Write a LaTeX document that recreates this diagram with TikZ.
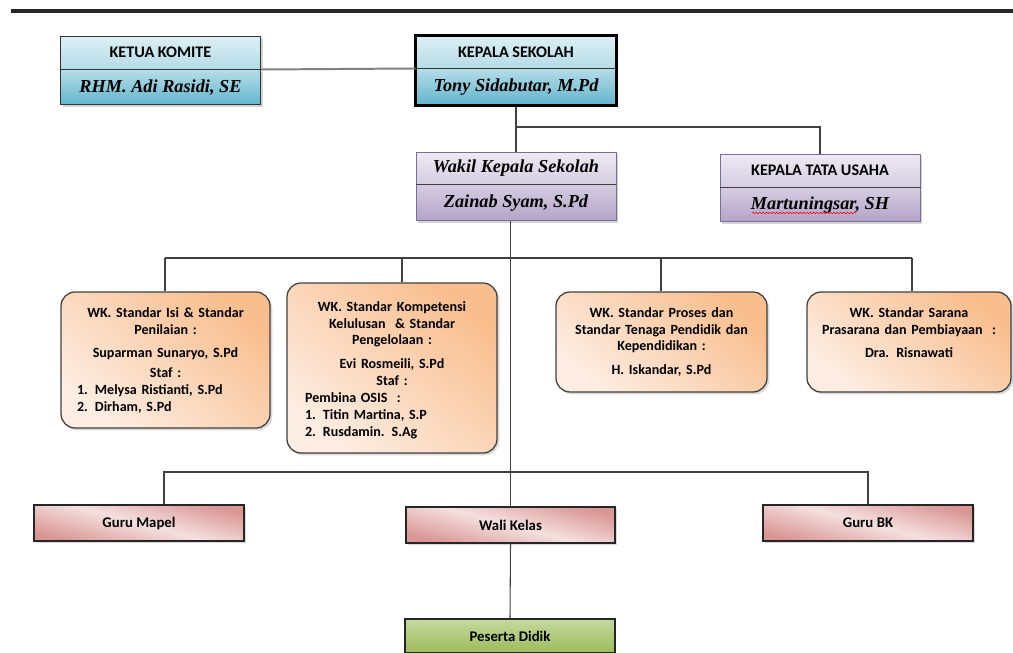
\documentclass[tikz,border=0pt]{standalone}
\usepackage{fontspec}
\setmainfont{Carlito}
\newfontfamily\namefont{Liberation Serif}
\usetikzlibrary{positioning, fit, shadows, decorations.pathmorphing}

\definecolor{blueA}{HTML}{DDEFF4}
\definecolor{blueB}{HTML}{B4DCE7}
\definecolor{blueC}{HTML}{62B5CD}
\definecolor{purpA}{HTML}{EEEBF3}
\definecolor{purpB}{HTML}{D5CCE1}
\definecolor{purpC}{HTML}{B3A3C8}
\definecolor{purpEdge}{HTML}{7E6AA0}
\definecolor{peachD}{HTML}{F9BE8E}
\definecolor{peachL}{HTML}{FDEDE2}
\definecolor{pinkD}{HTML}{D99694}
\definecolor{pinkL}{HTML}{F4E0DF}
\definecolor{greenL}{HTML}{C6D9A0}
\definecolor{greenD}{HTML}{9BBB59}

\newcommand{\pxu}{0.025cm}
\newcommand{\wkitem}[1]{\makebox[\hsize][l]{#1}}

\begin{document}
\begin{tikzpicture}[x=\pxu, y=-\pxu,
    part_style/.style={draw=black!80, line width=0.7pt, minimum width=200*\pxu, inner sep=0pt,
        drop shadow={shadow xshift=1.6pt, shadow yshift=-1.6pt, opacity=0.35}},
    title_font/.style={font=\fontsize{11.5}{13}\selectfont\bfseries},
    name_font/.style={font=\fontsize{13}{15}\selectfont\namefont\bfseries\itshape},
    blue_top/.style={part_style, title_font, top color=blueA, bottom color=blueB},
    blue_bot/.style={part_style, name_font, top color=blueB, bottom color=blueC},
    purp_top/.style={part_style, draw=purpEdge, top color=purpA, bottom color=purpB},
    purp_bot/.style={part_style, draw=purpEdge, name_font, top color=purpB, bottom color=purpC},
    divider/.style={draw=black!75, line width=0.7pt},
    wk_box/.style={draw=black!75, line width=0.9pt, rounded corners=10pt, top color=peachD, bottom color=peachL,
        shading angle=-40, drop shadow={shadow xshift=1.6pt, shadow yshift=-1.6pt, opacity=0.3}},
    wk_text/.style={font=\fontsize{10}{12}\selectfont\bfseries, align=center, anchor=north, inner sep=0pt},
    unit_box/.style={draw=black!85, line width=0.9pt, font=\fontsize{10.5}{12}\selectfont\bfseries,
        top color=pinkD, bottom color=pinkD, middle color=pinkL,
        shading angle=-15, drop shadow={shadow xshift=1.6pt, shadow yshift=-1.6pt, opacity=0.3}},
    learner_box/.style={draw=black!85, line width=0.9pt, font=\fontsize{10.5}{12}\selectfont\bfseries,
        top color=greenL, bottom color=greenD},
    link/.style={draw=black!75, line width=0.75pt},
    link_gray/.style={draw=black!50, line width=1.4pt},
    spell_mark/.style={draw=red, line width=0.4pt, decorate, decoration={snake, amplitude=0.6pt, segment length=2.4pt}}
]
\useasboundingbox (0,0) rectangle (1013,652);
\clip (0,0) rectangle (1013,652);

% heading rule
\draw[line width=2.4pt, black!85] (11,11) -- (1013,11);

% Ketua Komite
\node[blue_top, minimum height=33*\pxu] (ketuaT) at (160.5,52.5) {KETUA KOMITE};
\node[blue_bot, minimum height=35*\pxu, below=0pt of ketuaT] (ketuaB) {RHM. Adi Rasidi, SE};

% Kepala Sekolah (thick frame)
\node[blue_top, minimum height=32*\pxu] (kepsekT) at (516,52) {KEPALA SEKOLAH};
\node[blue_bot, minimum height=36*\pxu, below=0pt of kepsekT] (kepsekB) {Tony Sidabutar, M.Pd};
\node[draw=black, line width=2.2pt, inner sep=0pt, fit=(kepsekT)(kepsekB)] (kepsek) {};

% Wakil and Tata Usaha
\node[purp_top, name_font, minimum height=32*\pxu] (wakilT) at (516,168) {Wakil Kepala Sekolah};
\node[purp_bot, minimum height=36*\pxu, below=0pt of wakilT] (wakilB) {Zainab Syam, S.Pd};
\node[purp_top, title_font, minimum height=33*\pxu] (ktuT) at (820,170.5) {KEPALA TATA USAHA};
\node[purp_bot, minimum height=34*\pxu, below=0pt of ktuT] (ktuB) {Martuningsar, SH};
\draw[divider] (wakilB.north west) -- (wakilB.north east);
\draw[divider] (ktuB.north west) -- (ktuB.north east);
\draw[spell_mark] ([shift={(-68,8)}]ktuB.center) -- ([shift={(36,8)}]ktuB.center);

% WK boxes
\node[wk_box, minimum width=209*\pxu, minimum height=136*\pxu] (wk1) at (165.5,360) {};
\node[wk_box, minimum width=210*\pxu, minimum height=170*\pxu] (wk2) at (392,368) {};
\node[wk_box, minimum width=211*\pxu, minimum height=100*\pxu] (wk3) at (661.5,342) {};
\node[wk_box, minimum width=204*\pxu, minimum height=100*\pxu] (wk4) at (909,342) {};

\node[wk_text, text width=177*\pxu] (wk1txt) at (165.5,307) {WK. Standar Isi \& Standar\\ Penilaian :\\[5pt]
    Suparman Sunaryo, S.Pd\\[2pt] Staf :\\ \wkitem{1.\enspace Melysa Ristianti, S.Pd}\\ \wkitem{2.\enspace Dirham, S.Pd}};
\node[wk_text, text width=174*\pxu] (wk2txt) at (392,301) {WK. Standar Kompetensi\\ Kelulusan \ \& Standar\\ Pengelolaan :\\[5pt]
    Evi Rosmeili, S.Pd\\ Staf :\\ \wkitem{Pembina OSIS \ :}\\ \wkitem{1.\enspace Titin Martina, S.P}\\ \wkitem{2.\enspace Rusdamin. S.Ag}};
\node[wk_text, text width=195*\pxu] (wk3txt) at (661.5,307) {WK. Standar Proses dan\\ Standar Tenaga Pendidik dan\\ Kependidikan :\\[5pt]
    H. Iskandar, S.Pd};
\node[wk_text, text width=195*\pxu] (wk4txt) at (909,307) {WK. Standar Sarana\\ Prasarana dan Pembiayaan \ :\\[5pt]
    Dra. Risnawati};

% units
\node[unit_box, minimum width=210*\pxu, minimum height=36*\pxu] (gmapel) at (139,523) {Guru Mapel};
\node[unit_box, minimum width=209*\pxu, minimum height=36*\pxu] (wali) at (510.5,525) {Wali Kelas};
\node[unit_box, minimum width=210*\pxu, minimum height=36*\pxu] (gbk) at (868,523) {Guru BK};
\node[learner_box, minimum width=210*\pxu, minimum height=34*\pxu] (peserta) at (510,636) {Peserta Didik};

% connectors
\draw[link_gray] (ketuaB.north east) -- (kepsekB.north west);
\coordinate (jTop) at (516,127);
\draw[link] (kepsek.south) -- (wakilT.north);
\draw[link] (jTop) -| (ktuT.north);
\draw[link] (wakilB.south -| wali.north) -- (wali.north);

\coordinate (bus1L) at (165,258);
\coordinate (bus1R) at (912,258);
\draw[link] (bus1L) -- (bus1R);
\foreach \n/\x in {wk1/165, wk2/402, wk3/661, wk4/912} {
    \coordinate (drop_\n) at (\x,258);
    \draw[link] (drop_\n) -- (drop_\n |- \n.north);
}

\coordinate (bus2L) at (164,472);
\coordinate (bus2R) at (868,472);
\draw[link] (bus2L |- gmapel.north) -- (bus2L) -- (bus2R) -- (gbk.north);
\draw[link] (wali.south) -- (peserta.north);

\end{tikzpicture}
\end{document}
